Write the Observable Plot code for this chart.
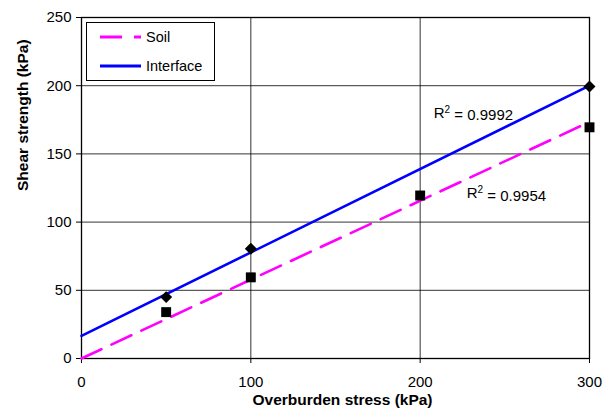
<!DOCTYPE html>
<html><head><meta charset="utf-8">
<script src="https://cdn.jsdelivr.net/npm/d3@7"></script>
<script src="https://cdn.jsdelivr.net/npm/@observablehq/plot@0.6"></script>
<style>
body{margin:0;background:#fff;}
#chart{position:relative;width:611px;height:410px;}
svg{font-family:"Liberation Sans",Arial,sans-serif;}
</style></head>
<body><div id="chart"></div>
<script>
const soilX = [50, 100, 200, 300];
const soilY = [34, 59.5, 119.5, 169.5];
const ifaceX = [50, 100, 300];
const ifaceY = [45, 80.5, 199.5];
const xTicks = [0, 100, 200, 300];
const yTicks = [0, 50, 100, 150, 200, 250];
const seriesNames = ["Soil", "Interface"];
const r2Values = ["0.9954", "0.9992"];
const xTitle = "Overburden stress (kPa)";
const yTitle = "Shear strength (kPa)";

// Trendlines: soil forced through origin, interface ordinary least squares
function fitOrigin(xs, ys) {
  const sxy = d3.sum(xs, (x, i) => x * ys[i]);
  const sxx = d3.sum(xs, x => x * x);
  return {a: 0, b: sxy / sxx};
}
function fitOLS(xs, ys) {
  const mx = d3.mean(xs), my = d3.mean(ys);
  const sxy = d3.sum(xs, (x, i) => (x - mx) * (ys[i] - my));
  const sxx = d3.sum(xs, x => (x - mx) ** 2);
  const b = sxy / sxx;
  return {a: my - b * mx, b};
}
const soilFit = fitOrigin(soilX, soilY);
const ifaceFit = fitOLS(ifaceX, ifaceY);
const xExt = [0, 300];
const soilLine = xExt.map(x => ({x, y: soilFit.a + soilFit.b * x}));
const ifaceLine = xExt.map(x => ({x, y: ifaceFit.a + ifaceFit.b * x}));
const soilPts = soilX.map((x, i) => ({x, y: soilY[i]}));
const ifacePts = ifaceX.map((x, i) => ({x, y: ifaceY[i]}));

const r2Data = [
  {x: 227.5, y: 121, v: r2Values[0]},
  {x: 208, y: 180, v: r2Values[1]}
];

const plot = Plot.plot({
  width: 611, height: 410,
  marginLeft: 81, marginRight: 22, marginTop: 17, marginBottom: 52,
  style: {fontFamily: "Liberation Sans, Arial, sans-serif", fontSize: "15px", color: "#000", background: "#fff"},
  x: {domain: [0, 300]},
  y: {domain: [0, 250]},
  marks: [
    Plot.gridX(xTicks, {stroke: "#000", strokeOpacity: 0.8, strokeWidth: 1}),
    Plot.gridY(yTicks, {stroke: "#000", strokeOpacity: 0.8, strokeWidth: 1}),
    Plot.frame({stroke: "#000", strokeWidth: 1.3}),
    Plot.axisX(xTicks, {tickSize: 5, tickPadding: 13, label: null, stroke: "#000"}),
    Plot.axisY(yTicks, {tickSize: 5, tickPadding: 5, label: null, stroke: "#000"}),
    Plot.line(soilLine, {x: "x", y: "y", stroke: "#FF00FF", strokeWidth: 2.6, strokeDasharray: "22,11"}),
    Plot.line(ifaceLine, {x: "x", y: "y", stroke: "#0000FF", strokeWidth: 2.6}),
    Plot.dot(soilPts, {x: "x", y: "y", symbol: "square", r: 5.6, fill: "#000", stroke: "none"}),
    Plot.dot(ifacePts, {x: "x", y: "y", symbol: "diamond2", r: 5.4, fill: "#000", stroke: "none"}),
    Plot.text(r2Data, {x: "x", y: "y", text: d => "R2 = " + d.v, textAnchor: "start", fill: "#000"}),
    Plot.text([xTitle], {frameAnchor: "bottom", dx: 7, dy: 46.5, fontWeight: "bold", fill: "#000"}),
    Plot.text([yTitle], {frameAnchor: "left", dx: -58, dy: 3, rotate: -90, fontWeight: "bold", fill: "#000"})
  ]
});

const svg = d3.select(plot);
svg.selectAll("text").each(function() {
  const t = d3.select(this);
  const s = this.textContent;
  if (s === xTitle || s === yTitle) {
    t.style("font-size", "15.5px").style("font-weight", "bold");
  } else if (s.startsWith("R2 = ")) {
    const v = s.slice(5);
    t.style("font-size", "15px").text(null);
    t.append("tspan").text("R");
    t.append("tspan").attr("dy", "-0.5em").style("font-size", "10px").text("2");
    t.append("tspan").attr("dy", "0.5em").text(" = " + v);
  }
});

// Legend drawn into the SVG
const lg = svg.append("g");
lg.append("rect").attr("x", 86.5).attr("y", 22.5).attr("width", 128).attr("height", 58)
  .attr("fill", "#fff").attr("stroke", "#000").attr("stroke-width", 1);
const rows = [
  {name: seriesNames[0], color: "#FF00FF", dash: "22,12", y: 37},
  {name: seriesNames[1], color: "#0000FF", dash: null, y: 66}
];
rows.forEach(r => {
  const l = lg.append("line").attr("x1", 100).attr("x2", 141).attr("y1", r.y).attr("y2", r.y)
    .attr("stroke", r.color).attr("stroke-width", 3);
  if (r.dash) l.attr("stroke-dasharray", r.dash);
  lg.append("text").attr("x", 146).attr("y", r.y).attr("dy", "0.35em")
    .attr("text-anchor", "start").style("font-size", "14.5px").attr("fill", "#000").text(r.name);
});

document.getElementById("chart").appendChild(plot);
</script>
</body></html>
